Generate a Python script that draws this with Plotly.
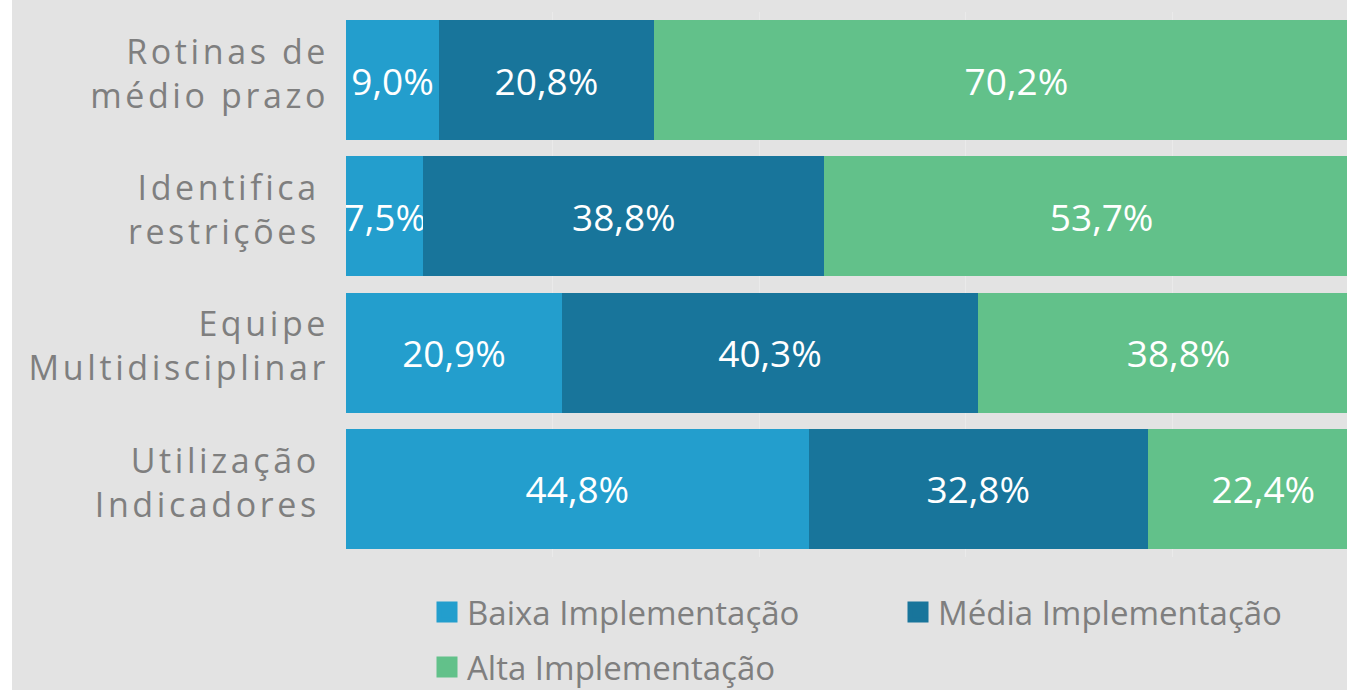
import plotly.graph_objects as go

categories = [
    ["Rotinas de", "médio prazo"],
    ["Identifica\u2009", "restrições\u2009"],
    ["Equipe", "Multidisciplinar"],
    ["Utilização\u2009", "Indicadores\u2009"],
]
series_names = ["Baixa Implementação", "Média Implementação", "Alta Implementação"]
baixa = [9.0, 7.5, 20.9, 44.8]
media = [20.8, 38.8, 40.3, 32.8]
alta = [70.2, 53.7, 38.8, 22.4]
colors = ["#239ecd", "#18759b", "#62c18a"]

W, H = 1347, 690
ML, MR, MT, MB = 346, 0, 12, 133
PW = W - ML - MR
PH = H - MT - MB

ykeys = ["Rotinas de médio prazo", "Identifica restrições",
         "Equipe Multidisciplinar", "Utilização Indicadores"]
ticktext = [
    "<br>".join('<span style="letter-spacing:3.6px">' + line + "</span>" for line in c)
    for c in categories
]
# labels sit slightly above the bar centres, as in the original
label_shift = 0.045
tickpos = [i - label_shift for i in range(len(ykeys))]

legend_names = ["legend", "legend2", "legend3"]
# legend placement in pixels: (left, top)
legend_pos = [(427, 584), (898, 584), (427, 639)]

fig = go.Figure()
for i, (name, vals) in enumerate(zip(series_names, [baixa, media, alta])):
    fig.add_trace(go.Bar(
        y=ykeys, x=vals, name=name, orientation="h",
        marker=dict(color=colors[i], line=dict(width=0)),
        texttemplate="%{x:.1f}%", textposition="inside",
        insidetextanchor="middle", textangle=0, constraintext="none",
        textfont=dict(color="white", size=37, family="Open Sans"),
        showlegend=False,
        hoverinfo="skip",
    ))
# legend keys (no marks drawn)
for i, name in enumerate(series_names):
    fig.add_trace(go.Scatter(
        x=[None], y=[None], mode="markers", name=name,
        marker=dict(symbol="square", size=16, color=colors[i],
                    line=dict(width=5, color=colors[i])),
        legend=legend_names[i], showlegend=True, hoverinfo="skip",
    ))

legends = {}
for ln, (lx, ly) in zip(legend_names, legend_pos):
    legends[ln] = dict(
        orientation="h", xref="container", yref="container",
        x=lx / W, xanchor="left", y=1 - ly / H, yanchor="top",
        font=dict(size=33, color="#7f7f7f", family="Open Sans"),
        itemwidth=30, bgcolor="rgba(0,0,0,0)",
    )

fig.update_layout(
    width=W, height=H,
    margin=dict(l=ML, r=MR, t=MT, b=MB, pad=0, autoexpand=False),
    barmode="stack", bargap=0.12,
    separators=",.",
    showlegend=True,
    paper_bgcolor="#e3e3e3", plot_bgcolor="#e3e3e3",
    font=dict(family="Open Sans", color="#7f7f7f"),
    xaxis=dict(range=[0, PW / 10.33], dtick=20, tick0=0, showgrid=True,
               gridcolor="#eaeaea", gridwidth=1, zeroline=False,
               showticklabels=False, showline=False, fixedrange=True),
    yaxis=dict(type="category", categoryorder="array", categoryarray=ykeys,
               range=[len(ykeys) - 0.5, -0.5],
               tickmode="array", tickvals=tickpos, ticktext=ticktext,
               showgrid=False, zeroline=False,
               ticks="", ticklabelstandoff=16, fixedrange=True,
               tickfont=dict(size=34, color="#7f7f7f", family="Open Sans")),
    shapes=[dict(type="rect", xref="paper", yref="paper",
                 x0=-ML / PW - 0.01, x1=-(ML - 12) / PW,
                 y0=-MB / PH - 0.05, y1=1 + MT / PH + 0.05,
                 fillcolor="white", line=dict(width=0), layer="below")],
    **legends,
)

fig.write_html(
    "out.html",
    config={"displayModeBar": False},
    post_script="document.body.style.margin='0';"
                "document.body.style.overflow='hidden';"
                "document.documentElement.style.overflow='hidden';",
)
